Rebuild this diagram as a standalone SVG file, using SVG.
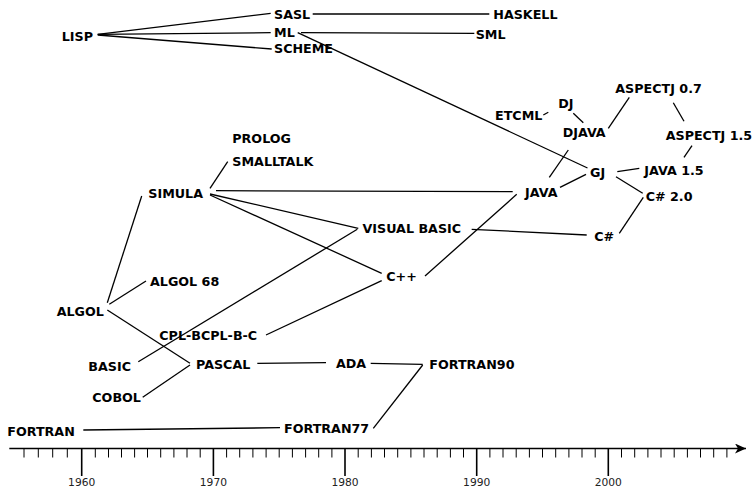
<svg xmlns="http://www.w3.org/2000/svg" width="756" height="488" viewBox="0 0 756 488">
<defs>
<style>
.n{font-family:"DejaVu Sans",sans-serif;font-weight:bold;font-size:12.7px;fill:#000}
.y{font-family:"DejaVu Sans",sans-serif;font-size:10.7px;fill:#222;text-anchor:middle}
.c line{stroke:#000;stroke-width:1.3;fill:none}
.ax{stroke:#000;stroke-width:1.6}
.mt{stroke:#000;stroke-width:1}
.Mt{stroke:#000;stroke-width:1.6}
</style>
<marker id="ah" markerWidth="12" markerHeight="10" refX="11" refY="5" orient="auto" markerUnits="userSpaceOnUse">
<path d="M0,0 L11,5 L0,10 L3,5 Z" fill="#000"/>
</marker>
</defs>
<rect width="756" height="488" fill="#fff"/>
<g id="connectors" class="c">
<line x1="97.7" y1="34.3" x2="270.7" y2="13.3"/>
<line x1="97.7" y1="34.3" x2="270.7" y2="32.7"/>
<line x1="97.7" y1="35" x2="271.7" y2="49"/>
<line x1="312.7" y1="14" x2="489.3" y2="14"/>
<line x1="301" y1="32.7" x2="474.3" y2="33.3"/>
<line x1="297.7" y1="32.7" x2="587.5" y2="168"/>
<line x1="543.3" y1="115" x2="548.3" y2="112.3"/>
<line x1="573.3" y1="113.3" x2="583.3" y2="122.7"/>
<line x1="608.3" y1="128.3" x2="629.3" y2="97.3"/>
<line x1="673.3" y1="102.7" x2="684" y2="121.3"/>
<line x1="692" y1="145.7" x2="684" y2="157.3"/>
<line x1="568.3" y1="150" x2="549.3" y2="177.3"/>
<line x1="617.3" y1="171.7" x2="639.3" y2="168.3"/>
<line x1="560" y1="187.3" x2="586" y2="174.3"/>
<line x1="616" y1="176.7" x2="642.7" y2="193.3"/>
<line x1="643.3" y1="197.3" x2="619.3" y2="233.3"/>
<line x1="216" y1="190.7" x2="512.7" y2="191.7"/>
<line x1="471.7" y1="229.3" x2="586.7" y2="235"/>
<line x1="425" y1="276" x2="516.7" y2="194.3"/>
<line x1="210" y1="188.3" x2="227.7" y2="161.7"/>
<line x1="210" y1="194" x2="358.3" y2="228.3"/>
<line x1="210" y1="195" x2="381.7" y2="273.3"/>
<line x1="107.3" y1="302.7" x2="141.7" y2="196"/>
<line x1="109.3" y1="304.3" x2="146" y2="281"/>
<line x1="138.3" y1="361.7" x2="357.3" y2="229.3"/>
<line x1="266" y1="335" x2="381.7" y2="280.7"/>
<line x1="107.3" y1="310" x2="190" y2="363.3"/>
<line x1="142.7" y1="397.3" x2="190" y2="365"/>
<line x1="257.3" y1="363.3" x2="326" y2="362.7"/>
<line x1="370.7" y1="363.3" x2="422.7" y2="364.3"/>
<line x1="373.3" y1="428.3" x2="422.7" y2="365"/>
<line x1="83.3" y1="430" x2="280" y2="427.7"/>
</g>
<g id="LISP"><text class="n" x="61.7" y="40.5">LISP</text></g>
<g id="SASL"><text class="n" x="274" y="19.3">SASL</text></g>
<g id="ML"><text class="n" x="274" y="37.3">ML</text></g>
<g id="SCHEME"><text class="n" x="274" y="53.3">SCHEME</text></g>
<g id="HASKELL"><text class="n" x="493.3" y="19">HASKELL</text></g>
<g id="SML"><text class="n" x="475.7" y="39.3">SML</text></g>
<g id="ASPECTJ07"><text class="n" x="615.3" y="93.3">ASPECTJ 0.7</text></g>
<g id="DJ"><text class="n" x="558.3" y="108">DJ</text></g>
<g id="ETCML"><text class="n" x="495" y="120">ETCML</text></g>
<g id="DJAVA"><text class="n" x="562.7" y="137.2">DJAVA</text></g>
<g id="ASPECTJ15"><text class="n" x="665.7" y="140">ASPECTJ 1.5</text></g>
<g id="GJ"><text class="n" x="590" y="177">GJ</text></g>
<g id="JAVA15"><text class="n" x="644.3" y="175">JAVA 1.5</text></g>
<g id="JAVA"><text class="n" x="525" y="196.5">JAVA</text></g>
<g id="CSHARP20"><text class="n" x="645.7" y="201">C# 2.0</text></g>
<g id="CSHARP"><text class="n" x="594.3" y="240.7">C#</text></g>
<g id="VISUALBASIC"><text class="n" x="362.5" y="233.3">VISUAL BASIC</text></g>
<g id="CPP"><text class="n" x="386.3" y="281">C++</text></g>
<g id="PROLOG"><text class="n" x="232.3" y="142.7">PROLOG</text></g>
<g id="SMALLTALK"><text class="n" x="232.3" y="166">SMALLTALK</text></g>
<g id="SIMULA"><text class="n" x="148.3" y="198.3">SIMULA</text></g>
<g id="ALGOL68"><text class="n" x="150" y="285.7">ALGOL 68</text></g>
<g id="ALGOL"><text class="n" x="56.7" y="315.7">ALGOL</text></g>
<g id="CPLBCPLBC"><text class="n" x="159.3" y="340">CPL-BCPL-B-C</text></g>
<g id="BASIC"><text class="n" x="88.3" y="370.7">BASIC</text></g>
<g id="PASCAL"><text class="n" x="196" y="369.3">PASCAL</text></g>
<g id="ADA"><text class="n" x="336" y="368">ADA</text></g>
<g id="FORTRAN90"><text class="n" x="429.3" y="369.3">FORTRAN90</text></g>
<g id="COBOL"><text class="n" x="92.3" y="402.3">COBOL</text></g>
<g id="FORTRAN"><text class="n" x="7.3" y="436">FORTRAN</text></g>
<g id="FORTRAN77"><text class="n" x="284" y="433.3">FORTRAN77</text></g>
<g id="axis">
<line class="ax" x1="9.3" y1="448.5" x2="746" y2="448.5" marker-end="url(#ah)"/>
<path class="mt" d="M24,448.5v9M38.3,448.5v9M52.7,448.5v9M67.3,448.5v9M95.3,448.5v9M108.5,448.5v9M121.5,448.5v9M134.6,448.5v9M147.5,448.5v9M160.7,448.5v9M173.9,448.5v9M187,448.5v9M200.2,448.5v9M226.6,448.5v9M239.7,448.5v9M252.9,448.5v9M266.1,448.5v9M279.2,448.5v9M292.4,448.5v9M305.6,448.5v9M318.7,448.5v9M331.9,448.5v9M358.2,448.5v9M371.4,448.5v9M384.5,448.5v9M397.7,448.5v9M410.9,448.5v9M424,448.5v9M437.2,448.5v9M450.4,448.5v9M463.5,448.5v9M489.9,448.5v9M503,448.5v9M516.2,448.5v9M529.4,448.5v9M542.5,448.5v9M555.7,448.5v9M568.9,448.5v9M582,448.5v9M595.2,448.5v9M621.5,448.5v9M634.7,448.5v9M647.9,448.5v9M661,448.5v9M674.2,448.5v9M687.4,448.5v9M700.5,448.5v9M713.7,448.5v9M726.9,448.5v9"/>
<path class="Mt" d="M81.7,448.5v27.5M213.4,448.5v27.5M345,448.5v27.5M476.7,448.5v27.5M608.3,448.5v27.5"/>
<text class="y" x="81.7" y="486">1960</text>
<text class="y" x="213.4" y="486">1970</text>
<text class="y" x="345" y="486">1980</text>
<text class="y" x="476.7" y="486">1990</text>
<text class="y" x="608.3" y="486">2000</text>
</g>
</svg>
